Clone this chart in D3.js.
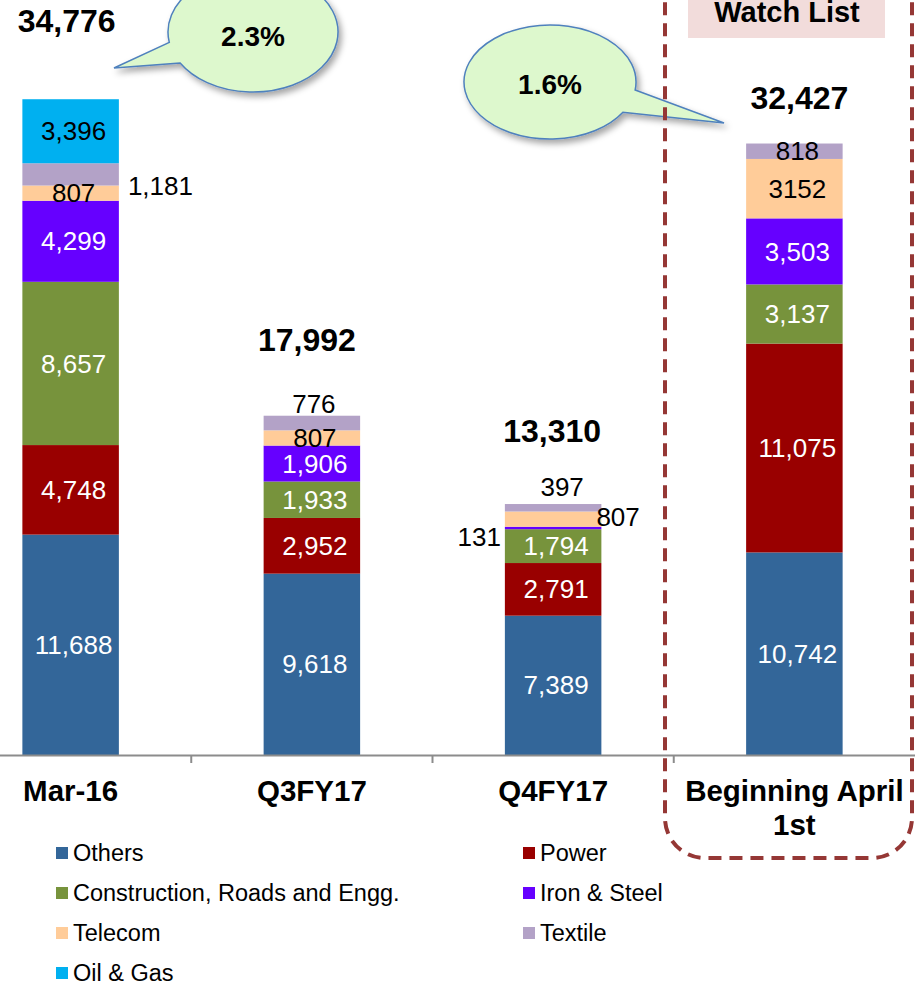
<!DOCTYPE html>
<html>
<head>
<meta charset="utf-8">
<script src="https://cdn.jsdelivr.net/npm/d3@7"></script>
<style>
	body{ margin: 0; background: #fff; }
	svg text{ font-family: "Liberation Sans", Arial, sans-serif; }
</style>
</head>
<body>
<svg id="graph" width="915" height="985"></svg>
<script>
var graph;
const width = 915;
const height = 985;

/////////////////////////////////////////////////////////////////
// data (Rs crore)
const categories = ["Mar-16", "Q3FY17", "Q4FY17", "Beginning April 1st"];
const tickLabels = [["Mar-16"], ["Q3FY17"], ["Q4FY17"], ["Beginning April", "1st"]];
const seriesNames = ["Others", "Power", "Construction, Roads and Engg.", "Iron & Steel", "Telecom", "Textile", "Oil & Gas"];

const others = [11688, 9618, 7389, 10742];
const power = [4748, 2952, 2791, 11075];
const construction = [8657, 1933, 1794, 3137];
const ironSteel = [4299, 1906, 131, 3503];
const telecom = [807, 807, 807, 3152];
const textile = [1181, 776, 397, 818];
const oilGas = [3396, 0, 0, 0];

const totals = [34776, 17992, 13310, 32427];
const callouts = ["2.3%", "1.6%"];
/////////////////////////////////////////////////////////////////

const seriesValues = [others, power, construction, ironSteel, telecom, textile, oilGas];
const colors = ["#336699", "#990000", "#77933C", "#6600FF", "#FFCC99", "#B3A2C7", "#00B0F0"];
const whiteText = ["Others", "Power", "Construction, Roads and Engg.", "Iron & Steel"];

// labels that sit outside their thin segments
const outside = {
	"Textile|Mar-16": {side: "right", dx: 9, dy: 12},
	"Textile|Q3FY17": {side: "above", dx: 2, dy: -12},
	"Textile|Q4FY17": {side: "above", dx: 9, dy: -17},
	"Telecom|Q4FY17": {side: "right", dx: -5, dy: -2},
	"Iron & Steel|Q4FY17": {side: "left", dx: -4, dy: 9}
};
// the 3152 label has no thousands separator in the original
const plainLabels = ["Telecom|Beginning April 1st"];
const totalLift = [67, 65, 62, 35];
const totalShift = [-4, -5, -1, 5];

var table = categories.map(function(c, i){
	var row = {category: c};
	seriesNames.forEach(function(s, j){ row[s] = seriesValues[j][i]; });
	return row;
});

graph = d3.select("#graph")
	.attr("viewBox", [0, 0, width, height]);

graph.append("rect")
	.attr("width", width)
	.attr("height", height)
	.attr("fill", "#fff");

var defs = graph.append("defs");
defs.append("filter")
	.attr("id", "shadow")
	.attr("x", "-20%").attr("y", "-20%")
	.attr("width", "150%").attr("height", "150%")
	.append("feDropShadow")
		.attr("dx", 3)
		.attr("dy", 4)
		.attr("stdDeviation", 3)
		.attr("flood-color", "#000")
		.attr("flood-opacity", 0.35);

var x = d3.scaleBand()
	.domain(categories)
	.range([-50, 915])
	.paddingInner(0.6)
	.paddingOuter(0.3);

var y = d3.scaleLinear()
	.domain([0, 35000])
	.range([755, 95]);

var color = d3.scaleOrdinal()
	.domain(seriesNames)
	.range(colors);

var stacked = d3.stack().keys(seriesNames)(table);

//speech bubbles
function bubblePath(cx, cy, rx, ry, a0, a1, tip){
	function pt(a){
		var r = a * Math.PI / 180;
		return [cx + rx * Math.cos(r), cy + ry * Math.sin(r)];
	}
	var p0 = pt(a0), p1 = pt(a1);
	return "M" + p0 + "L" + tip + "L" + p1 +
		"A" + rx + "," + ry + " 0 1 1 " + p0 + "Z";
}

var bubbles = [
	{text: callouts[0], cx: 253, cy: 32, rx: 85, ry: 60, a0: 149, a1: 170, tip: [114, 68], ty: 46},
	{text: callouts[1], cx: 550, cy: 82, rx: 86, ry: 57, a0: 8, a1: 32, tip: [724, 123], ty: 94}
];

graph.selectAll(".bubble")
	.data(bubbles)
	.enter()
	.append("path")
		.attr("class", "bubble")
		.attr("d", d => bubblePath(d.cx, d.cy, d.rx, d.ry, d.a0, d.a1, d.tip))
		.attr("fill", "#DDF8CD")
		.attr("stroke", "#4F81BD")
		.attr("stroke-width", 1.5)
		.attr("filter", "url(#shadow)");

graph.selectAll(".bubbleText")
	.data(bubbles)
	.enter()
	.append("text")
		.attr("class", "bubbleText")
		.attr("x", d => d.cx)
		.attr("y", d => d.ty)
		.attr("text-anchor", "middle")
		.style("font-size", "28px")
		.style("font-weight", "bold")
		.text(d => d.text);

//watch list box
graph.append("rect")
	.attr("x", 688)
	.attr("y", -10)
	.attr("width", 197)
	.attr("height", 48)
	.attr("fill", "#F2DCDB");
graph.append("text")
	.attr("x", 787)
	.attr("y", 22)
	.attr("text-anchor", "middle")
	.style("font-size", "29px")
	.style("font-weight", "bold")
	.text("Watch List");

graph.append("rect")
	.attr("x", 665)
	.attr("y", -60)
	.attr("width", 247)
	.attr("height", 918)
	.attr("rx", 40)
	.attr("fill", "none")
	.attr("stroke", "#953735")
	.attr("stroke-width", 4)
	.attr("stroke-dasharray", "13 8");

//stacked bars
var layers = graph.selectAll(".layer")
	.data(stacked)
	.enter()
	.append("g")
		.attr("class", "layer")
		.attr("fill", d => color(d.key));

layers.selectAll("rect")
	.data(d => d)
	.enter()
	.append("rect")
		.attr("x", d => x(d.data.category))
		.attr("y", d => y(d[1]))
		.attr("width", x.bandwidth())
		.attr("height", d => y(d[0]) - y(d[1]));

//segment labels
var labelData = [];
stacked.forEach(function(layer){
	layer.forEach(function(d){
		var v = d[1] - d[0];
		if(v <= 0) return;
		labelData.push({series: layer.key, category: d.data.category, value: v, y0: d[0], y1: d[1]});
	});
});

var fmt = d3.format(",");
graph.selectAll(".segLabel")
	.data(labelData)
	.enter()
	.append("text")
		.attr("class", "segLabel")
		.style("font-size", "26px")
		.attr("dy", "0.35em")
		.each(function(d){
			var key = d.series + "|" + d.category;
			var o = outside[key];
			var left = x(d.category);
			var mid = y((d.y0 + d.y1) / 2);
			var t = d3.select(this);
			if(!o){
				t.attr("x", left + x.bandwidth() / 2 + 3)
					.attr("y", mid)
					.attr("text-anchor", "middle")
					.attr("fill", whiteText.indexOf(d.series) >= 0 ? "#fff" : "#000");
			}else if(o.side == "above"){
				t.attr("x", left + x.bandwidth() / 2 + o.dx)
					.attr("y", y(d.y1) + o.dy)
					.attr("text-anchor", "middle");
			}else if(o.side == "right"){
				t.attr("x", left + x.bandwidth() + o.dx)
					.attr("y", mid + o.dy)
					.attr("text-anchor", "start");
			}else{
				t.attr("x", left + o.dx)
					.attr("y", mid + o.dy)
					.attr("text-anchor", "end");
			}
			t.text(plainLabels.indexOf(key) >= 0 ? d.value : fmt(d.value));
		});

//totals
graph.selectAll(".total")
	.data(categories)
	.enter()
	.append("text")
		.attr("class", "total")
		.attr("x", (d, i) => x(d) + x.bandwidth() / 2 + totalShift[i])
		.attr("y", (d, i) => y(totals[i]) - totalLift[i])
		.attr("text-anchor", "middle")
		.style("font-size", "32px")
		.style("font-weight", "bold")
		.text((d, i) => fmt(totals[i]));

//x-axis
var xAxis = d3.axisBottom(x)
	.tickSize(0)
	.tickFormat("");
var axisG = graph.append("g")
	.attr("transform", "translate(0," + y(0) + ")")
	.call(xAxis);
axisG.select(".domain")
	.attr("stroke", "#8C8C8C")
	.attr("stroke-width", 2);

var step = x.step();
axisG.selectAll(".divider")
	.data(categories.slice(0, -1))
	.enter()
	.append("line")
		.attr("class", "divider")
		.attr("x1", d => x(d) + x.bandwidth() + (step - x.bandwidth()) / 2)
		.attr("x2", d => x(d) + x.bandwidth() + (step - x.bandwidth()) / 2)
		.attr("y1", 0)
		.attr("y2", 8)
		.attr("stroke", "#8C8C8C")
		.attr("stroke-width", 2);

var catText = graph.selectAll(".catLabel")
	.data(categories)
	.enter()
	.append("text")
		.attr("class", "catLabel")
		.attr("text-anchor", "middle")
		.style("font-size", "29.5px")
		.style("font-weight", "bold");
catText.selectAll("tspan")
	.data((d, i) => tickLabels[i].map(l => ({line: l, cat: d})))
	.enter()
	.append("tspan")
		.attr("x", d => x(d.cat) + x.bandwidth() / 2)
		.attr("y", (d, i) => 801 + i * 34)
		.text(d => d.line);

//legend
var legend = graph.selectAll(".legend")
	.data(seriesNames)
	.enter()
	.append("g")
		.attr("class", "legend")
		.attr("transform", (d, i) => "translate(" + (i % 2 == 0 ? 56 : 523) + "," + (853 + Math.floor(i / 2) * 40) + ")");
legend.append("rect")
	.attr("x", 0)
	.attr("y", -6)
	.attr("width", 12)
	.attr("height", 12)
	.attr("fill", d => color(d));
legend.append("text")
	.attr("x", 17)
	.attr("dy", "0.35em")
	.style("font-size", "23.5px")
	.text(d => d);
</script>
</body>
</html>
